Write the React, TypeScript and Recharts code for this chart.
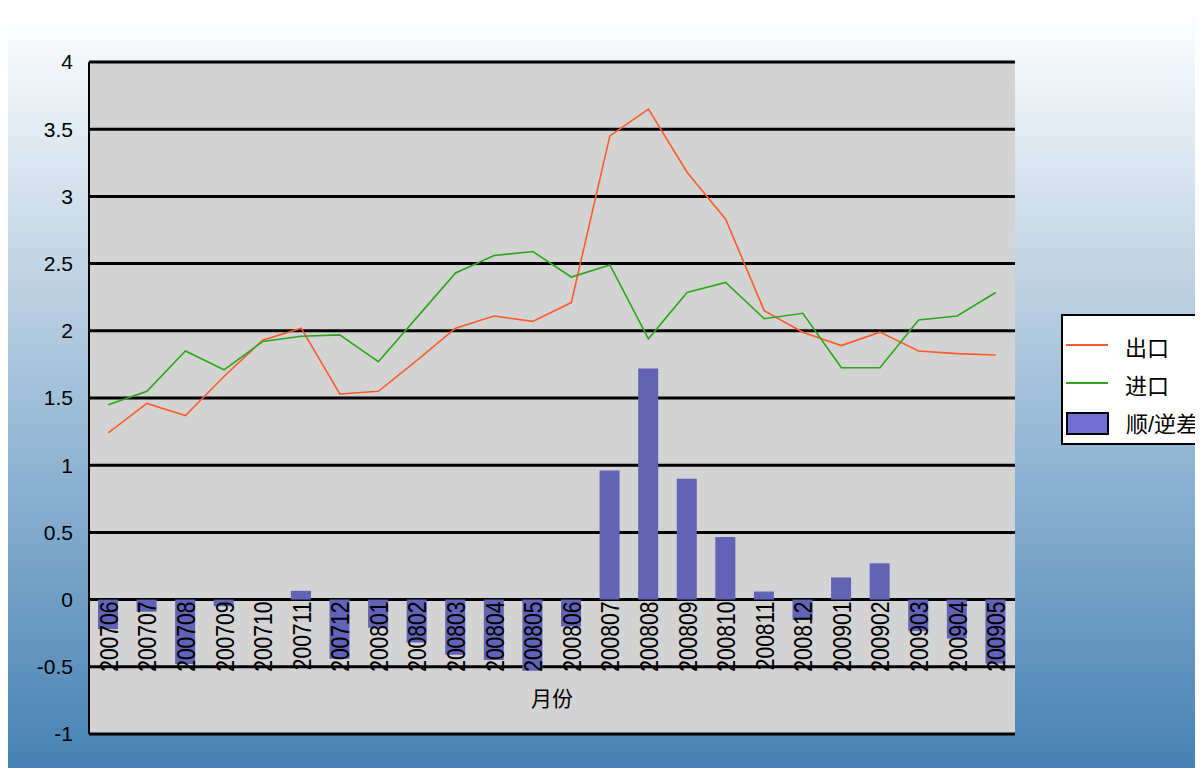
import React from "react"
import {
  ComposedChart,
  Bar,
  Line,
  XAxis,
  YAxis,
  CartesianGrid,
  Legend,
  LabelList,
} from "recharts"

// 月份
const months = [
  "200706", "200707", "200708", "200709", "200710", "200711", "200712",
  "200801", "200802", "200803", "200804", "200805", "200806",
  "200807", "200808", "200809", "200810", "200811", "200812",
  "200901", "200902", "200903", "200904", "200905",
]

// 出口
const exportRate = [
  1.24, 1.46, 1.37, 1.66, 1.93, 2.02, 1.53, 1.55, 1.78, 2.02, 2.11, 2.07,
  2.21, 3.45, 3.65, 3.18, 2.83, 2.15, 1.99, 1.89, 1.99, 1.85, 1.83, 1.82,
]

// 进口
const importRate = [
  1.45, 1.55, 1.85, 1.71, 1.92, 1.96, 1.97, 1.77, 2.1, 2.43, 2.56, 2.59,
  2.4, 2.49, 1.94, 2.285, 2.36, 2.09, 2.13, 1.725, 1.725, 2.08, 2.11, 2.285,
]

// 顺/逆差
const spread = [
  -0.22, -0.09, -0.48, -0.05, 0, 0.065, -0.44, -0.21, -0.32, -0.41, -0.45, -0.53,
  -0.2, 0.96, 1.72, 0.9, 0.465, 0.06, -0.15, 0.165, 0.27, -0.235, -0.29, -0.475,
]

const yTicks = [-1, -0.5, 0, 0.5, 1, 1.5, 2, 2.5, 3, 3.5, 4]

const legendOrder = ["出口", "进口", "顺/逆差"]

const data = months.map((month, i) => ({
  month,
  export: exportRate[i],
  import: importRate[i],
  spread: spread[i],
}))

const LATIN = "'Liberation Sans', Arial, sans-serif"
const CJK = "'Noto Sans CJK SC', sans-serif"
const MIXED = "'Liberation Sans', 'Noto Sans CJK SC', sans-serif"

function MonthLabel(props: any) {
  const x = Number(props.x)
  const y = Number(props.y)
  return (
    <text
      transform={`translate(${x + 9.5},${y + 2}) rotate(-90) scale(0.81,1)`}
      textAnchor="end"
      fontSize={26}
      fontFamily={LATIN}
      fill="#000"
    >
      {props.value}
    </text>
  )
}

function renderLegend(props: any) {
  const items = (props.payload || [])
    .filter((p: any) => legendOrder.includes(p.value))
    .sort((a: any, b: any) => legendOrder.indexOf(a.value) - legendOrder.indexOf(b.value))

  return (
    <div
      style={{
        boxSizing: "border-box",
        width: 142,
        height: 131,
        background: "#fff",
        borderTop: "2px solid #000",
        borderLeft: "2px solid #000",
        borderBottom: "2px solid #000",
        paddingTop: 16,
        paddingLeft: 3,
        overflow: "hidden",
      }}
    >
      {items.map((item: any) => (
        <div
          key={item.value}
          style={{ display: "flex", alignItems: "center", height: 38 }}
        >
          {item.type === "rect" ? (
            <span
              style={{
                boxSizing: "border-box",
                flex: "0 0 43px",
                height: 23,
                background: "#6f6fd6",
                border: "2px solid #000",
                position: "relative",
                top: -4,
              }}
            />
          ) : (
            <span
              style={{
                flex: "0 0 42px",
                height: 2,
                background: item.color,
                position: "relative",
                top: -6,
              }}
            />
          )}
          <span
            style={{
              marginLeft: 17,
              fontSize: 22,
              fontFamily: MIXED,
              color: "#000",
              whiteSpace: "nowrap",
              lineHeight: "38px",
              position: "relative",
              top: -2,
            }}
          >
            {item.value}
          </span>
        </div>
      ))}
    </div>
  )
}

export default function App() {
  return (
    <div
      style={{
        width: 1195,
        height: 760,
        background: "linear-gradient(to bottom, #ffffff, #4682b4)",
        fontFamily: LATIN,
      }}
    >
      <ComposedChart
        width={1195}
        height={760}
        data={data}
        margin={{ top: 54, right: 188, left: 0, bottom: 0 }}
      >
        <CartesianGrid
          vertical={false}
          stroke="#000"
          strokeWidth={3}
          fill="#d3d3d3"
          fillOpacity={1}
        />
        <XAxis
          dataKey="month"
          height={34}
          tick={false}
          tickLine={false}
          axisLine={false}
          label={{
            value: "月份",
            position: "top",
            offset: 28,
            fontSize: 21,
            fontFamily: CJK,
            fill: "#000",
          }}
        />
        <YAxis
          width={81}
          domain={[-1, 4]}
          ticks={yTicks}
          interval={0}
          tickSize={0}
          tickMargin={16}
          tickLine={false}
          axisLine={{ stroke: "#000", strokeWidth: 2 }}
          tick={{ fontSize: 21, fill: "#000", fontFamily: LATIN }}
        />
        <Bar
          dataKey="spread"
          name="顺/逆差"
          fill="#6262b6"
          barSize={20}
          isAnimationActive={false}
        />
        <Line
          dataKey={() => 0}
          name="month-labels"
          stroke="none"
          dot={false}
          activeDot={false}
          legendType="none"
          isAnimationActive={false}
        >
          <LabelList dataKey="month" content={MonthLabel} />
        </Line>
        <Line
          type="linear"
          dataKey="export"
          name="出口"
          stroke="#ff5b2b"
          strokeWidth={1.6}
          dot={false}
          activeDot={false}
          isAnimationActive={false}
        />
        <Line
          type="linear"
          dataKey="import"
          name="进口"
          stroke="#2ca61a"
          strokeWidth={1.6}
          dot={false}
          activeDot={false}
          isAnimationActive={false}
        />
        <Legend
          layout="vertical"
          align="center"
          verticalAlign="middle"
          content={renderLegend}
          wrapperStyle={{ left: 1053, top: 306, width: 142, height: 131 }}
        />
      </ComposedChart>
    </div>
  )
}
